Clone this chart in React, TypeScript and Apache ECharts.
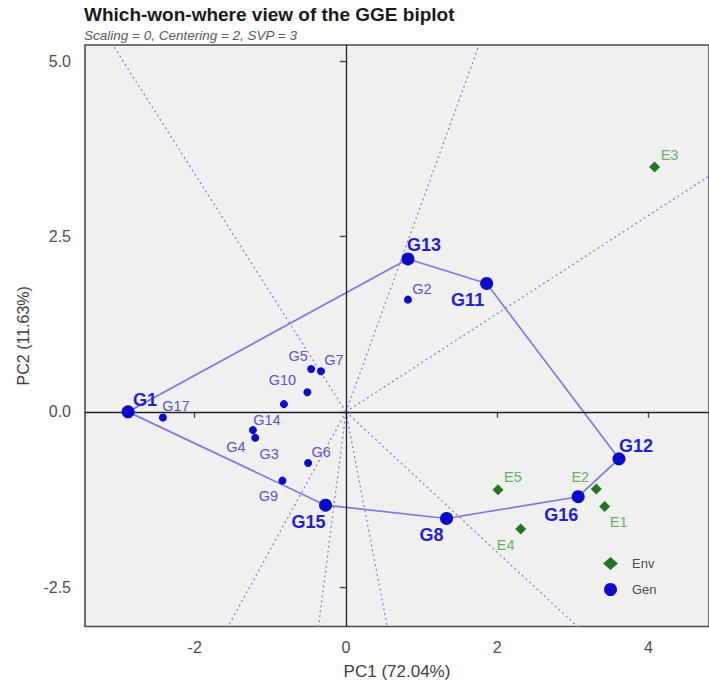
import React, { useEffect, useRef } from "react";
import * as echarts from "echarts";

// ---------- data ----------
const genNames = ["G1", "G2", "G3", "G4", "G5", "G6", "G7", "G8", "G9", "G10", "G11", "G12", "G13", "G14", "G15", "G16", "G17"];
const genPC1 = [-2.88, 0.82, -1.2, -1.23, -0.46, -0.5, -0.33, 1.33, -0.84, -0.51, 1.86, 3.61, 0.82, -0.82, -0.27, 3.07, -2.42];
const genPC2 = [0.0, 1.6, -0.37, -0.26, 0.61, -0.73, 0.58, -1.52, -0.98, 0.28, 1.83, -0.67, 2.18, 0.11, -1.33, -1.21, -0.08];

const envNames = ["E1", "E2", "E3", "E4", "E5"];
const envPC1 = [3.42, 3.31, 4.08, 2.31, 2.01];
const envPC2 = [-1.35, -1.1, 3.49, -1.67, -1.11];

// vertices of the which-won-where polygon, in order
const hullOrder = ["G1", "G13", "G11", "G12", "G16", "G8", "G15"];

const xTicks = [-2, 0, 2, 4];
const yTicks = [-2.5, 0, 2.5, 5];

const titleText = "Which-won-where view of the GGE biplot";
const subText = "Scaling = 0, Centering = 2, SVP = 3";
const xName = "PC1 (72.04%)";
const yName = "PC2 (11.63%)";

// ---------- label placement (pixels, style only) ----------
const labelNudge: Record<string, [number, number]> = {
  G1: [17, -12], G13: [16, -14], G2: [14, -11], G11: [-19, 17], G12: [17, -13],
  G16: [-17, 18], G8: [-15, 17], G15: [-17, 17], G9: [-14, 15], G6: [13, -11],
  G5: [-13, -13], G7: [13, -11], G10: [-25, -12], G14: [-17, 16], G4: [-17, 17],
  G3: [14, 16], G17: [13, -11],
  E3: [15, -12], E5: [15, -13], E2: [-16, -12], E1: [14, 15], E4: [-15, 16],
};

const FONT = "'Liberation Sans', Arial, sans-serif";

export default function App() {
  const ref = useRef<HTMLDivElement>(null);

  useEffect(() => {
    if (!ref.current) return;
    const chart = echarts.init(ref.current, undefined, { renderer: "svg" });

    const genPt = (n: string) => {
      const i = genNames.indexOf(n);
      return [genPC1[i], genPC2[i]];
    };
    const hullPts = hullOrder.map(genPt);

    // rays from origin perpendicular to each polygon side
    const raySeries: any[] = [];
    for (let k = 0; k < hullPts.length; k++) {
      const a = hullPts[k];
      const b = hullPts[(k + 1) % hullPts.length];
      let nx = -(b[1] - a[1]);
      let ny = b[0] - a[0];
      if (nx * a[0] + ny * a[1] < 0) {
        nx = -nx;
        ny = -ny;
      }
      const len = Math.hypot(nx, ny);
      const far = 20;
      raySeries.push({
        type: "line",
        silent: true,
        symbol: "none",
        clip: true,
        z: 1,
        lineStyle: { color: "#8484e0", width: 1.3, type: [2, 3] },
        data: [
          [0, 0],
          [(nx / len) * far, (ny / len) * far],
        ],
      });
    }

    const polyData = hullPts.concat([hullPts[0]]);

    const genData = genNames.map((n, i) => {
      const isHull = hullOrder.includes(n);
      return {
        name: n,
        value: [genPC1[i], genPC2[i]],
        symbolSize: isHull ? 13 : 8,
        label: {
          show: true,
          formatter: n,
          position: "inside",
          align: "center",
          verticalAlign: "middle",
          offset: labelNudge[n] || [12, -12],
          fontFamily: FONT,
          fontSize: isHull ? 18 : 14.5,
          fontWeight: isHull ? "bold" : "normal",
          color: isHull ? "#1f1fd4" : "#5656cc",
        },
      };
    });

    const envData = envNames.map((n, i) => ({
      name: n,
      value: [envPC1[i], envPC2[i]],
      label: {
        show: true,
        formatter: n,
        position: "inside",
        align: "center",
        verticalAlign: "middle",
        offset: labelNudge[n] || [12, -12],
        fontFamily: FONT,
        fontSize: 14.5,
        color: "#69b069",
      },
    }));

    const option: any = {
      animation: false,
      backgroundColor: "#ffffff",
      textStyle: { fontFamily: FONT },
      title: {
        text: titleText,
        subtext: subText,
        left: 84,
        top: 5,
        itemGap: 4,
        padding: [0, 0, 0, 0],
        textStyle: { fontFamily: FONT, fontSize: 19, fontWeight: "bold", color: "#1a1a1a" },
        subtextStyle: { fontFamily: FONT, fontSize: 13.5, fontStyle: "italic", color: "#5a5a5a" },
      },
      legend: {
        data: [
          { name: "Env", icon: "diamond" },
          { name: "Gen", icon: "circle" },
        ],
        orient: "vertical",
        left: 598,
        top: 552,
        itemWidth: 15,
        itemHeight: 13,
        itemGap: 13,
        textStyle: { fontFamily: FONT, fontSize: 13, color: "#4d4d4d", padding: [0, 0, 0, 9] },
      },
      grid: {
        left: 85,
        top: 45,
        right: -3,
        bottom: 58.5,
        show: true,
        backgroundColor: "#f0f0f0",
        borderColor: "#4a4a4a",
        borderWidth: 1.6,
      },
      xAxis: {
        type: "value",
        min: -3.45,
        max: 4.8,
        name: xName,
        nameLocation: "middle",
        nameGap: 36,
        nameTextStyle: { fontFamily: FONT, fontSize: 17, color: "#3d3d3d" },
        axisLine: { show: false },
        splitLine: { show: false },
        axisTick: { show: true, length: 6, lineStyle: { color: "#4a4a4a", width: 1.4 }, customValues: xTicks },
        axisLabel: {
          fontFamily: FONT,
          fontSize: 16,
          color: "#4d4d4d",
          margin: 13,
          customValues: xTicks,
          formatter: (v: number) => String(v),
        },
      },
      yAxis: {
        type: "value",
        min: -3.06,
        max: 5.23,
        name: yName,
        nameLocation: "middle",
        nameGap: 54,
        nameRotate: 90,
        nameTextStyle: { fontFamily: FONT, fontSize: 16, color: "#3d3d3d" },
        axisLine: { show: false },
        splitLine: { show: false },
        axisTick: { show: true, length: 6, lineStyle: { color: "#4a4a4a", width: 1.4 }, customValues: yTicks },
        axisLabel: {
          fontFamily: FONT,
          fontSize: 16,
          color: "#4d4d4d",
          margin: 14,
          customValues: yTicks,
          formatter: (v: number) => v.toFixed(1),
        },
      },
      series: [
        ...raySeries,
        {
          type: "line",
          name: "hull",
          silent: true,
          symbol: "none",
          z: 2,
          lineStyle: { color: "#7a7ae2", width: 1.7 },
          data: polyData,
          markLine: {
            silent: true,
            symbol: "none",
            label: { show: false },
            lineStyle: { color: "#222222", width: 1.3, type: "solid" },
            data: [{ xAxis: 0 }, { yAxis: 0 }],
          },
        },
        {
          type: "scatter",
          name: "Env",
          symbol: "diamond",
          symbolSize: 11,
          z: 4,
          itemStyle: { color: "#267326", opacity: 1 },
          data: envData,
        },
        {
          type: "scatter",
          name: "Gen",
          symbol: "circle",
          z: 5,
          itemStyle: { color: "#0a0ac8", opacity: 1 },
          data: genData,
        },
      ],
    };

    chart.setOption(option);
    return () => chart.dispose();
  }, []);

  return (
    <div
      ref={ref}
      style={{ position: "absolute", left: 0, top: 0, width: 709, height: 685 }}
    />
  );
}
